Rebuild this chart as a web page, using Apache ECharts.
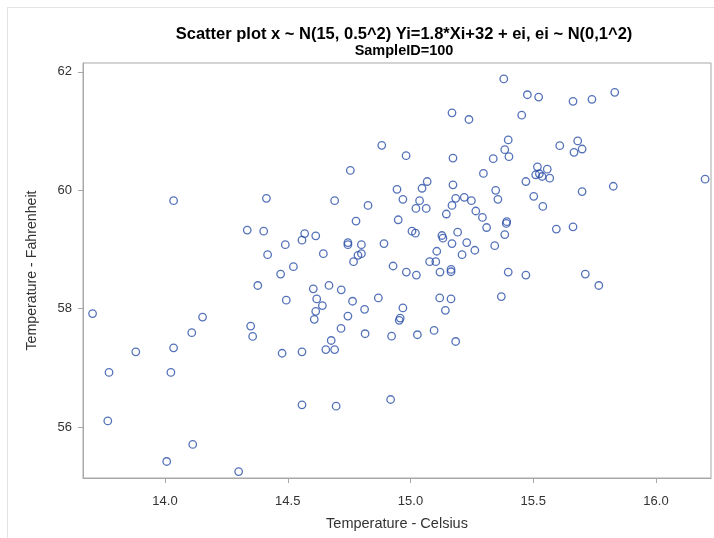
<!DOCTYPE html>
<html>
<head>
<meta charset="utf-8">
<script src="https://cdn.jsdelivr.net/npm/echarts@6/dist/echarts.min.js"></script>
<style>
  html, body { margin: 0; padding: 0; background: #fff; }
  #frame { position: absolute; left: 7px; top: 7px; width: 720px; height: 540px; border: 1px solid #e3e3e3; box-sizing: border-box; }
  #chart { position: absolute; left: 0; top: 0; width: 714px; height: 538px; }
</style>
</head>
<body>
<div id="frame"></div>
<div id="chart"></div>
<script>
// celsius values (x)
var celsius = [
  14.035, 14.413, 14.335, 14.402, 14.490, 14.418, 14.523,
  13.705, 13.772, 13.767, 13.881, 14.035, 14.024, 14.109, 14.153, 14.113, 14.007, 14.300,
  14.378, 14.471, 14.494, 14.349, 14.357, 14.477,
  15.380, 15.169, 15.238, 15.398, 15.384, 15.401, 15.337, 15.173, 14.883, 14.982,
  14.755, 15.297, 15.173, 15.347, 15.356, 15.068, 15.047, 14.945, 14.969, 15.037,
  15.022, 15.064, 15.184, 15.219, 15.248, 15.169, 15.146, 15.266, 15.293, 15.310,
  15.392, 15.390, 15.384, 15.343, 14.691, 14.827, 14.778, 14.950, 15.006, 15.020,
  15.192, 15.128, 15.132, 15.169, 15.229, 15.262, 15.210, 15.107, 15.078, 15.103,
  14.892, 14.800, 14.745, 14.745, 14.558, 14.569, 14.614, 14.645, 14.800, 14.786,
  14.768, 14.929,
  14.983, 15.024, 15.120, 15.165, 15.165, 15.398, 14.604, 14.668, 14.718, 14.618,
  14.641, 14.614, 14.608, 14.764, 14.813, 14.869, 14.745, 14.717, 14.815, 14.677,
  14.655, 14.691, 14.558, 14.969, 14.958, 14.954, 14.923, 15.028, 15.096, 15.184,
  15.119, 15.165, 15.142, 15.370, 14.558, 14.697, 14.919,
  15.476, 15.522, 15.662, 15.739, 15.832, 15.453, 15.608, 15.681, 15.666, 15.699,
  15.517, 15.557, 15.510, 15.525, 15.536, 15.567, 15.470, 15.502, 15.539, 15.699,
  15.826, 16.200, 15.594, 15.662,
  15.470, 15.712, 15.767
];
// fahrenheit values (y), same order
var fahrenheit = [
  59.825, 59.864, 59.327, 59.310, 59.082, 58.912, 58.709,
  57.917, 56.924, 56.104, 57.271, 57.339, 56.924, 57.594, 57.859, 55.707, 55.419, 55.249,
  58.392, 58.585, 58.143, 57.706, 57.531, 57.247,
  61.881, 61.309, 61.196, 60.850, 60.686, 60.567, 60.534, 60.544, 60.760, 60.585,
  60.335, 60.284, 60.092, 60.000, 59.847, 60.148, 60.034, 60.017, 59.847, 59.825,
  59.694, 59.694, 59.864, 59.881, 59.825, 59.745, 59.599, 59.650, 59.541, 59.371,
  59.470, 59.440, 59.252, 59.065, 59.825, 59.745, 59.480, 59.502, 59.310, 59.276,
  59.293, 59.236, 59.191, 59.100, 59.117, 58.987, 58.913, 58.970, 58.794, 58.794,
  59.100, 59.082, 59.117, 59.082, 59.157, 59.269, 59.230, 58.930, 58.930, 58.902,
  58.794, 58.721,
  58.619, 58.568, 58.619, 58.664, 58.624, 58.619, 58.335, 58.393, 58.318, 58.165,
  58.053, 57.956, 57.820, 58.126, 57.990, 58.182, 57.876, 57.667, 57.577, 57.463,
  57.310, 57.310, 57.271, 58.012, 57.842, 57.803, 57.536, 57.560, 57.633, 57.446,
  58.182, 58.165, 57.973, 58.205, 56.376, 56.353, 56.466,
  61.614, 61.575, 61.502, 61.536, 61.655, 61.269, 60.754, 60.833, 60.641, 60.697,
  60.397, 60.357, 60.262, 60.279, 60.233, 60.204, 60.148, 59.898, 59.728, 59.978,
  60.068, 60.187, 59.344, 59.383,
  58.568, 58.585, 58.392
];
var xTicks = [14.0, 14.5, 15.0, 15.5, 16.0];
var yTicks = [56, 58, 60, 62];

var points = [];
for (var i = 0; i < celsius.length; i++) {
  points.push([celsius[i], fahrenheit[i]]);
}

var font = '"Liberation Sans", Arial, sans-serif';
var chart = echarts.init(document.getElementById('chart'));
chart.setOption({
  backgroundColor: 'transparent',
  animation: false,
  title: [
    {
      text: 'Scatter plot x ~ N(15, 0.5^2) Yi=1.8*Xi+32 + ei, ei ~ N(0,1^2)',
      left: 399, top: 21, textAlign: 'center',
      textStyle: { fontFamily: font, fontSize: 16.5, fontWeight: 'bold', color: '#000' }
    },
    {
      text: 'SampleID=100',
      left: 399, top: 38, textAlign: 'center',
      textStyle: { fontFamily: font, fontSize: 14.5, fontWeight: 'bold', color: '#000' }
    }
  ],
  grid: {
    left: 83, top: 63, width: 628, height: 415,
    show: true, borderColor: '#a8a8a8', borderWidth: 1,
    outerBoundsMode: 'none'
  },
  xAxis: {
    type: 'value', min: 13.666, max: 16.224,
    name: 'Temperature - Celsius', nameLocation: 'middle', nameGap: 38,
    nameTextStyle: { fontFamily: font, fontSize: 14.5, color: '#333' },
    axisLine: { show: true, lineStyle: { color: '#a8a8a8' } },
    axisTick: { show: true, length: 5, customValues: xTicks, lineStyle: { color: '#a8a8a8' } },
    axisLabel: {
      customValues: xTicks, margin: 17,
      fontFamily: font, fontSize: 13, color: '#333',
      formatter: function (v) { return v.toFixed(1); }
    },
    splitLine: { show: false }
  },
  yAxis: {
    type: 'value', min: 55.14, max: 62.15,
    name: 'Temperature - Fahrenheit', nameLocation: 'middle', nameGap: 44,
    nameTextStyle: { fontFamily: font, fontSize: 14.2, color: '#333' },
    axisLine: { show: true, lineStyle: { color: '#a8a8a8' } },
    axisTick: { show: true, length: 5, customValues: yTicks, lineStyle: { color: '#a8a8a8' } },
    axisLabel: { customValues: yTicks, margin: 11, fontFamily: font, fontSize: 13, color: '#333' },
    splitLine: { show: false }
  },
  series: [{
    type: 'scatter',
    data: points,
    symbol: 'circle',
    symbolSize: 7.5,
    itemStyle: { color: 'rgba(0,0,0,0)', borderColor: '#2a4fa8', borderWidth: 1.3 }
  }]
});
</script>
</body>
</html>
